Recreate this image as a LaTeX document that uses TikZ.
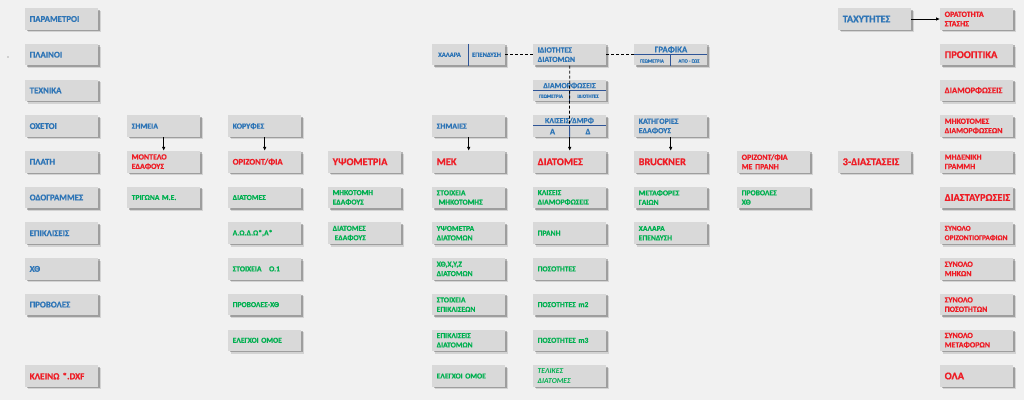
\documentclass[tikz,border=0pt]{standalone}
\usepackage{fontspec}
\setmainfont{Carlito}[BoldFeatures={FakeBold=0.6}]
\usetikzlibrary{arrows.meta,shadows}
\definecolor{bg}{HTML}{F1F1F1}
\definecolor{boxg}{HTML}{D9D9D9}
\definecolor{tblue}{HTML}{2E75B6}
\definecolor{tred}{HTML}{EE1C25}
\definecolor{tgreen}{HTML}{00B050}
\definecolor{ldiv}{HTML}{2F5597}
\begin{document}
\begin{tikzpicture}[x=1pt,y=-1pt,
  bx/.style={rectangle, fill=boxg, minimum height=21.5pt, text width=64pt,
    inner xsep=4.5pt, inner ysep=0pt, align=left, anchor=west,
    drop shadow={shadow xshift=2.6pt,shadow yshift=-2.6pt,fill=black,opacity=0.12},
    drop shadow={shadow xshift=1.3pt,shadow yshift=-1.3pt,fill=black,opacity=0.25}},
  lb/.style={bx, font=\bfseries\fontsize{8.8}{10}\selectfont, text=tblue},
  sb/.style={bx, font=\bfseries\fontsize{7.9}{9.4}\selectfont, text=tblue},
  sr/.style={bx, font=\bfseries\fontsize{7.9}{9.4}\selectfont, text=tred},
  sg/.style={bx, font=\bfseries\fontsize{7.6}{9.4}\selectfont, text=tgreen},
  mr/.style={bx, font=\bfseries\fontsize{8.6}{10}\selectfont, text=tred},
  br/.style={bx, font=\bfseries\fontsize{10.4}{12}\selectfont, text=tred},
  bb/.style={bx, font=\bfseries\fontsize{10.2}{12}\selectfont, text=tblue},
  tx/.style={inner sep=0pt, text=tblue, font=\bfseries\fontsize{6.6}{8}\selectfont},
  tt/.style={inner sep=0pt, text=tblue, font=\bfseries\fontsize{4.9}{6}\selectfont},
  th/.style={inner sep=0pt, text=tblue, font=\bfseries\fontsize{7.8}{9}\selectfont},
  arr/.style={-{Latex[length=4pt,width=3.6pt]}, line width=0.8pt, black},
  dsh/.style={dashed, dash pattern=on 3pt off 2pt, line width=0.8pt, black},
  dv/.style={ldiv, line width=0.9pt}]
\fill[bg] (0,0) rectangle (1024,400);
\useasboundingbox (0,0) rectangle (1024,400);
\fill[black!60] (8,57) circle (0.7);
% column A
\node[lb] (a0) at (25,19) {ΠΑΡΑΜΕΤΡΟΙ};
\node[lb] (a1) at (25,54.7) {ΠΛΑΙΝΟΙ};
\node[lb] (a2) at (25,90.4) {ΤΕΧΝΙΚΑ};
\node[lb] (a3) at (25,126.1) {ΟΧΕΤΟΙ};
\node[lb] (a4) at (25,161.8) {ΠΛΑΤΗ};
\node[lb] (a5) at (25,197.5) {ΟΔΟΓΡΑΜΜΕΣ};
\node[lb] (a6) at (25,233.2) {ΕΠΙΚΛΙΣΕΙΣ};
\node[lb] (a7) at (25,268.9) {ΧΘ};
\node[lb] (a8) at (25,304.6) {ΠΡΟΒΟΛΕΣ};
\node[mr, font=\bfseries\fontsize{9.2}{11}\selectfont] (a10) at (25,376) {ΚΛΕΙΝΩ *.DXF};
% column B
\node[sb] (b3) at (127,126.1) {ΣΗΜΕΙΑ};
\node[sr] (b4) at (127,161.8) {ΜΟΝΤΕΛΟ\\ΕΔΑΦΟΥΣ};
\node[sg] (b5) at (127,197.5) {ΤΡΙΓΩΝΑ Μ.Ε.};
% column C
\node[sb] (c3) at (228,126.1) {ΚΟΡΥΦΕΣ};
\node[mr] (c4) at (228,161.8) {ΟΡΙΖΟΝΤ/ΦΙΑ};
\node[sg] (c5) at (228,197.5) {ΔΙΑΤΟΜΕΣ};
\node[sg] (c6) at (228,233.2) {Α.Ω.Δ.Ω*,Α*};
\node[sg] (c7) at (228,268.9) {ΣΤΟΙΧΕΙΑ\ \ \ Ο.1};
\node[sg] (c8) at (228,304.6) {ΠΡΟΒΟΛΕΣ-ΧΘ};
\node[sg] (c9) at (228,340.3) {ΕΛΕΓΧΟΙ ΟΜΟΕ};
% column D
\node[br] (d4) at (328,161.8) {ΥΨΟΜΕΤΡΙΑ};
\node[sg] (d5) at (328,197.5) {ΜΗΚΟΤΟΜΗ\\ΕΔΑΦΟΥΣ};
\node[sg] (d6) at (328,233.2) {ΔΙΑΤΟΜΕΣ\\\hspace*{2pt}ΕΔΑΦΟΥΣ};
% column E
\node[bx] (e1) at (432,54.7) {};
\node[sb] (e3) at (432,126.1) {ΣΗΜΑΙΕΣ};
\node[br] (e4) at (432,161.8) {ΜΕΚ};
\node[sg] (e5) at (432,197.5) {ΣΤΟΙΧΕΙΑ\\\hspace*{2pt}ΜΗΚΟΤΟΜΗΣ};
\node[sg] (e6) at (432,233.2) {ΥΨΟΜΕΤΡΑ\\ΔΙΑΤΟΜΩΝ};
\node[sg] (e7) at (432,268.9) {ΧΘ,Χ,Υ,Ζ\\ΔΙΑΤΟΜΩΝ};
\node[sg] (e8) at (432,304.6) {ΣΤΟΙΧΕΙΑ\\ΕΠΙΚΛΙΣΕΩΝ};
\node[sg] (e9) at (432,340.3) {ΕΠΙΚΛΙΣΕΙΣ\\ΔΙΑΤΟΜΩΝ};
\node[sg] (e10) at (432,376) {ΕΛΕΓΧΟΙ ΟΜΟΕ};
% column F
\node[sb] (f1) at (533,54.7) {ΙΔΙΟΤΗΤΕΣ\\ΔΙΑΤΟΜΩΝ};
\node[bx] (f2) at (533,90.4) {};
\node[bx] (f3) at (533,126.1) {};
\node[br] (f4) at (533,161.8) {ΔΙΑΤΟΜΕΣ};
\node[sg] (f5) at (533,197.5) {ΚΛΙΣΕΙΣ\\ΔΙΑΜΟΡΦΩΣΕΙΣ};
\node[sg] (f6) at (533,233.2) {ΠΡΑΝΗ};
\node[sg] (f7) at (533,268.9) {ΠΟΣΟΤΗΤΕΣ};
\node[sg] (f8) at (533,304.6) {ΠΟΣΟΤΗΤΕΣ m2};
\node[sg] (f9) at (533,340.3) {ΠΟΣΟΤΗΤΕΣ m3};
\node[sg, font=\bfseries\itshape\fontsize{7.6}{9.4}\selectfont] (f10) at (533,376) {ΤΕΛΙΚΕΣ\\ΔΙΑΤΟΜΕΣ};
% column G
\node[bx] (g1) at (634,54.7) {};
\node[sb] (g3) at (634,126.1) {ΚΑΤΗΓΟΡΙΕΣ\\ΕΔΑΦΟΥΣ};
\node[br] (g4) at (634,161.8) {BRUCKNER};
\node[sg] (g5) at (634,197.5) {ΜΕΤΑΦΟΡΕΣ\\ΓΑΙΩΝ};
\node[sg] (g6) at (634,233.2) {ΧΑΛΑΡΑ\\ΕΠΕΝΔΥΣΗ};
% column H
\node[sr] (h4) at (737,161.8) {ΟΡΙΖΟΝΤ/ΦΙΑ\\ΜΕ ΠΡΑΝΗ};
\node[sg] (h5) at (737,197.5) {ΠΡΟΒΟΛΕΣ\\ΧΘ};
% column I
\node[bb] (i0) at (838,19) {ΤΑΧΥΤΗΤΕΣ};
\node[br] (i4) at (838,161.8) {3-ΔΙΑΣΤΑΣΕΙΣ};
% column J
\node[sr] (j0) at (940,19) {ΟΡΑΤΟΤΗΤΑ\\ΣΤΑΣΗΣ};
\node[br] (j1) at (940,54.7) {ΠΡΟΟΠΤΙΚΑ};
\node[mr] (j2) at (940,90.4) {ΔΙΑΜΟΡΦΩΣΕΙΣ};
\node[sr] (j3) at (940,126.1) {ΜΗΚΟΤΟΜΕΣ\\ΔΙΑΜΟΡΦΩΣΕΩΝ};
\node[sr] (j4) at (940,161.8) {ΜΗΔΕΝΙΚΗ\\ΓΡΑΜΜΗ};
\node[br] (j5) at (940,197.5) {ΔΙΑΣΤΑΥΡΩΣΕΙΣ};
\node[sr, font=\bfseries\fontsize{7.3}{9.4}\selectfont] (j6) at (940,233.2) {ΣΥΝΟΛΟ\\ΟΡΙΖΟΝΤΙΟΓΡΑΦΙΩΝ};
\node[sr] (j7) at (940,268.9) {ΣΥΝΟΛΟ\\ΜΗΚΩΝ};
\node[sr] (j8) at (940,304.6) {ΣΥΝΟΛΟ\\ΠΟΣΟΤΗΤΩΝ};
\node[sr] (j9) at (940,340.3) {ΣΥΝΟΛΟ\\ΜΕΤΑΦΟΡΩΝ};
\node[br] (j10) at (940,376) {ΟΛΑ};
% split box: ΧΑΛΑΡΑ | ΕΠΕΝΔΥΣΗ
\draw[dv] (e1.north) -- (e1.south);
\node[tx] (e1a) at (449.5,54.7) {ΧΑΛΑΡΑ};
\node[tx] (e1b) at (486.5,54.7) {ΕΠΕΝΔΥΣΗ};
% split box: ΔΙΑΜΟΡΦΩΣΕΙΣ
\draw[dv] (f2.west) -- (f2.east);
\draw[dv] (f2.center) -- (f2.south);
\node[th] (f2h) at (569.5,85.6) {ΔΙΑΜΟΡΦΩΣΕΙΣ};
\node[tt] (f2a) at (551,96.2) {ΓΕΩΜΕΤΡΙΑ};
\node[tt] (f2b) at (588,96.2) {ΙΔΙΟΤΗΤΕΣ};
% split box: ΚΛΙΣΕΙΣ/ΔΜΡΦ
\coordinate (f3l) at (533,125.3);
\coordinate (f3r) at (606,125.3);
\coordinate (f3m) at (569.5,125.3);
\draw[dv] (f3l) -- (f3r);
\draw[dv] (f3m) -- (f3.south);
\node[th] (f3h) at (569.5,120.6) {ΚΛΙΣΕΙΣ/ΔΜΡΦ};
\node[th, font=\bfseries\fontsize{8.5}{10}\selectfont] (f3a) at (552.5,131.6) {Α};
\node[th, font=\bfseries\fontsize{8.5}{10}\selectfont] (f3b) at (588,131.6) {Δ};
% split box: ΓΡΑΦΙΚΑ
\draw[dv] (g1.west) -- (g1.east);
\draw[dv] (g1.center) -- (g1.south);
\node[th, font=\bfseries\fontsize{8.8}{10}\selectfont] (g1h) at (671,49.6) {ΓΡΑΦΙΚΑ};
\node[tt] (g1a) at (652,61) {ΓΕΩΜΕΤΡΙΑ};
\node[tt] (g1b) at (689,61) {ΑΠΟ - ΕΩΣ};
% dashed links
\draw[dsh] (e1.east) -- (f1.west);
\draw[dsh] (f1.east) -- (g1.west);
\draw[dsh] (f1.south) -- (f3m);
% arrows
\draw[arr] (b3.south) -- (b4.north);
\draw[arr] (c3.south) -- (c4.north);
\draw[arr] (e3.south) -- (e4.north);
\draw[arr] (f3.south) -- (f4.north);
\draw[arr] (g3.south) -- (g4.north);
\draw[arr] (i0.east) -- (j0.west);
\end{tikzpicture}
\end{document}
